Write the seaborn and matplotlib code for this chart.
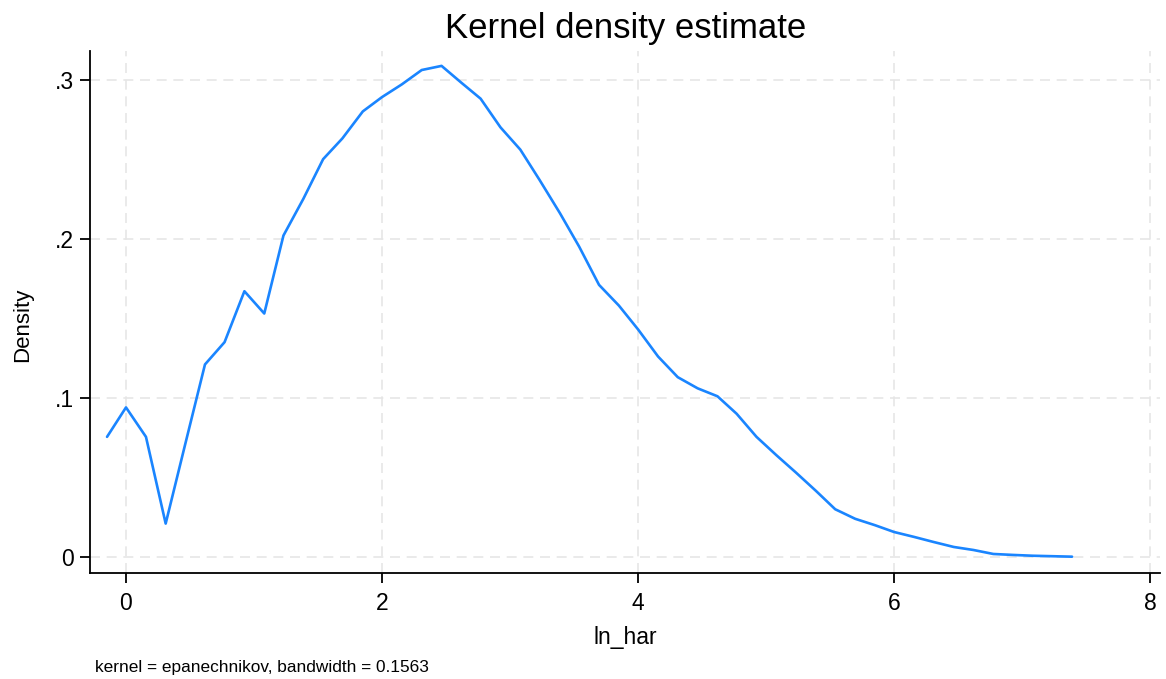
import numpy as np
import pandas as pd
import matplotlib
matplotlib.use("Agg")
import matplotlib.pyplot as plt
import seaborn as sns

x_vals = [-0.148, 0.0, 0.156, 0.31, 0.463, 0.617, 0.77, 0.925, 1.08, 1.23,
          1.385, 1.54, 1.69, 1.85, 2.0, 2.155, 2.31, 2.465, 2.62, 2.77,
          2.925, 3.08, 3.23, 3.39, 3.54, 3.695, 3.85, 4.0, 4.156, 4.31,
          4.465, 4.62, 4.77, 4.925, 5.08, 5.234, 5.39, 5.54, 5.696, 5.85,
          6.0, 6.157, 6.31, 6.466, 6.62, 6.775, 6.93, 7.08, 7.235, 7.39]
density = [0.0755, 0.094, 0.0755, 0.021, 0.071, 0.121, 0.135, 0.167, 0.153, 0.202,
           0.225, 0.250, 0.263, 0.280, 0.289, 0.297, 0.306, 0.3086, 0.298, 0.288,
           0.270, 0.256, 0.237, 0.216, 0.195, 0.171, 0.158, 0.143, 0.126, 0.113,
           0.106, 0.101, 0.090, 0.0755, 0.064, 0.053, 0.0415, 0.030, 0.024, 0.020,
           0.0157, 0.0126, 0.0094, 0.0063, 0.0044, 0.0019, 0.0013, 0.0008, 0.0005, 0.0002]
x_ticks = [0, 2, 4, 6, 8]
y_ticks = [0, 0.1, 0.2, 0.3]
y_ticklabels = ["0", ".1", ".2", ".3"]

df = pd.DataFrame({"ln_har": x_vals, "Density": density})

sns.set_theme(style="white")
plt.rcParams["font.family"] = ["Liberation Sans", "DejaVu Sans"]
plt.rcParams["text.color"] = "black"
plt.rcParams["axes.labelcolor"] = "black"

fig = plt.figure(figsize=(11.66, 6.79), dpi=100)
ax = fig.add_axes([0.0772, 0.156, 0.918, 0.769])

sns.lineplot(data=df, x="ln_har", y="Density", ax=ax, color="#1a85ff", linewidth=1.9)

ax.set_xlim(-0.281, 8.08)
ax.set_ylim(-0.0101, 0.318)
ax.set_xticks(x_ticks)
ax.set_yticks(y_ticks)
ax.set_yticklabels(y_ticklabels)
ax.tick_params(axis="both", which="major", direction="out", length=7.5, width=1.3,
               labelsize=16.5, color="black", labelcolor="black", left=True, bottom=True)
ax.tick_params(axis="x", pad=6)
ax.tick_params(axis="y", pad=4)
ax.grid(True, color="#e6e6e6", linestyle=(0, (6, 4)), linewidth=1.2)
for s in ["top", "right"]:
    ax.spines[s].set_visible(False)
for s in ["left", "bottom"]:
    ax.spines[s].set_color("black")
    ax.spines[s].set_linewidth(1.3)

ax.set_xlabel("ln_har", fontsize=16.5, labelpad=8, color="black")
ax.set_ylabel("Density", fontsize=16, color="black")
ax.yaxis.set_label_coords(-0.053, 0.475)
ax.set_title("Kernel density estimate", fontsize=25, pad=9, color="black")
fig.text(0.0815, 0.011, "kernel = epanechnikov, bandwidth = 0.1563", fontsize=12.4, color="black")

fig.savefig("out.png", dpi=100)
